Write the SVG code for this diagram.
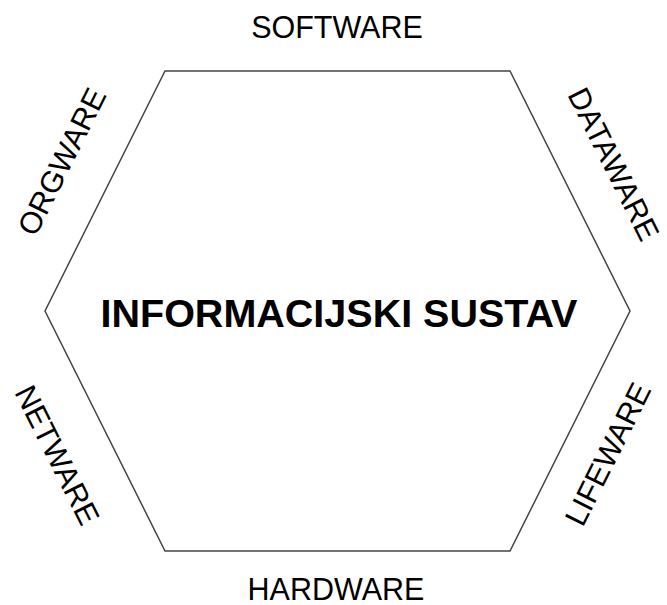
<svg xmlns="http://www.w3.org/2000/svg" width="667" height="605" viewBox="0 0 667 605">
<style>
.lbl{font-family:"Liberation Sans",Arial,sans-serif;font-size:30.5px;fill:#000;text-anchor:middle}
.title{font-family:"Liberation Sans",Arial,sans-serif;font-size:39.5px;font-weight:bold;fill:#000;text-anchor:middle}
.hex{fill:#fff;stroke:#444;stroke-width:1.5}
</style>
<rect width="667" height="605" fill="#fff"/>
<g id="hexagon">
<polygon class="hex" points="165,71 510,71 630,311 510,551 165,551 45,311"/>
<text class="title" x="339" y="327">INFORMACIJSKI SUSTAV</text>
</g>
<g id="software"><text class="lbl" x="337" y="38">SOFTWARE</text></g>
<g id="hardware"><text class="lbl" x="336" y="600">HARDWARE</text></g>
<g id="orgware" transform="translate(61.5,161.5) rotate(-63.43)"><text class="lbl" x="0" y="10.9">ORGWARE</text></g>
<g id="dataware" transform="translate(614,164) rotate(63.43)"><text class="lbl" x="0" y="10.9">DATAWARE</text></g>
<g id="netware" transform="translate(57.5,455) rotate(63.43)"><text class="lbl" x="0" y="10.9">NETWARE</text></g>
<g id="lifeware" transform="translate(607.5,454) rotate(-63.43)"><text class="lbl" x="0" y="10.9">LIFEWARE</text></g>
<g id="connectors"></g>
</svg>
